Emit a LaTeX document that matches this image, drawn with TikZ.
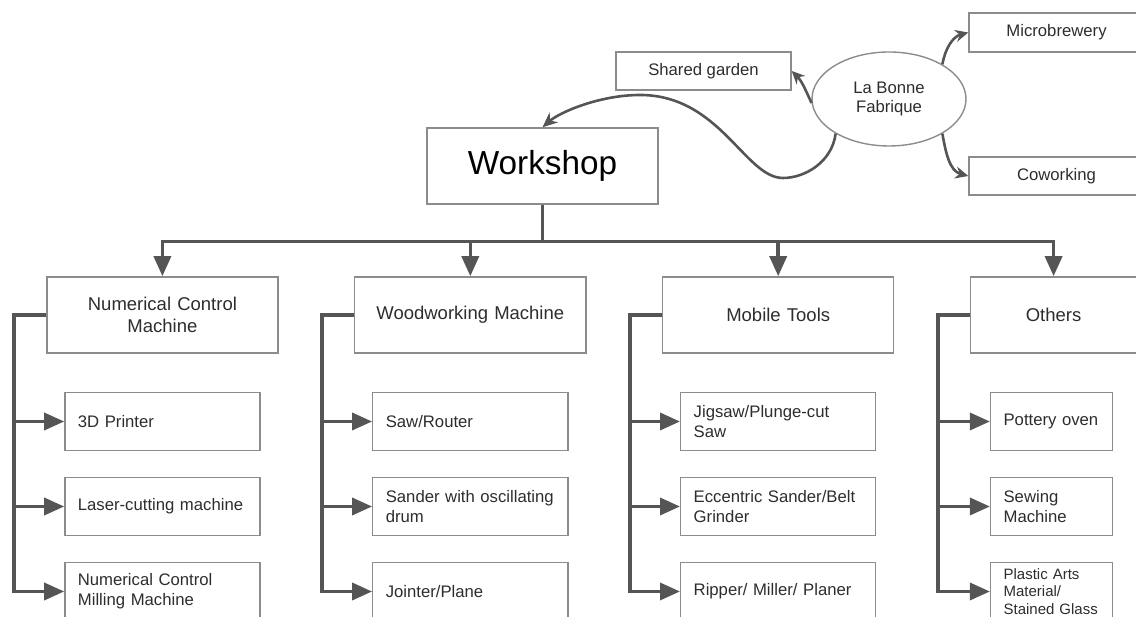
\documentclass[tikz,border=0pt]{standalone}
\usepackage{fontspec}
\setmainfont{Liberation Sans}
\usepackage{tikz}
\usetikzlibrary{matrix,arrows.meta,shapes.geometric}

\definecolor{boxline}{RGB}{140,140,140}
\definecolor{linkline}{RGB}{85,85,85}
\definecolor{labeltext}{RGB}{45,45,45}

\tikzset{
	box/.style={draw=boxline, line width=1.4pt, text=labeltext, inner sep=0pt},
	smalltext/.style={font=\fontsize{16.7}{20}\selectfont},
	headbox/.style={box, text width=231pt, minimum height=76pt, align=center, font=\fontsize{18.5}{22.3}\selectfont},
	itembox/.style={box, text width=169pt, inner xsep=13pt, minimum height=58pt, align=left, smalltext},
	tagbox/.style={box, minimum width=175pt, minimum height=38pt, smalltext},
	busline/.style={to path={-- ++(0,-37pt) -| (\tikztotarget)}},
	sideline/.style={to path={-- ++(-32pt,0) |- (\tikztotarget)}}
}

\begin{document}
\begin{tikzpicture}[x=1pt, y=1pt]
		\useasboundingbox (0,0) rectangle (1136,617);
		\node[box, minimum width=231pt, minimum height=76pt, text=black, font=\fontsize{33.3}{40}\selectfont] (workshop) at (542.5,451) {Workshop};
		\node[box, ellipse, minimum width=154pt, minimum height=94pt, align=center, smalltext] (fabrique) at (889,518) {La Bonne\\Fabrique};
		\node[tagbox] (garden) at (703.5,546) {Shared garden};
		\node[tagbox, minimum height=39pt] (brewery) at (1056.5,584.5) {Microbrewery};
		\node[tagbox] (cowork) at (1056.5,441) {Coworking};
		\coordinate (dip) at (783,439);
		\coordinate (crest) at (640,522);
		\matrix (m) [matrix of nodes, nodes={itembox, anchor=center}, column 4/.style={nodes={text width=96pt, xshift=-4pt}}, row 1/.style={nodes={headbox}}, column sep=75.5pt, row sep=25.6pt, inner sep=0pt, anchor=north west] at (46,341)
		{
			{Numerical Control\\Machine} & Woodworking Machine & Mobile Tools & |[text width=166pt, xshift=2pt]| Others \\[12.6pt]
			3D Printer & Saw/Router & {Jigsaw/Plunge-cut\\Saw} & Pottery oven \\
			Laser-cutting machine & {Sander with oscillating\\drum} & {Eccentric Sander/Belt\\Grinder} & {Sewing\\Machine} \\
			{Numerical Control\\Milling Machine} & Jointer/Plane & Ripper/ Miller/ Planer & |[font=\fontsize{15}{17.5}\selectfont]| {Plastic Arts\\Material/\\Stained Glass} \\
		};
		\path[color=linkline, line width=3.5pt, -{Triangle[length=20pt, width=17pt]}]
		(workshop.south) edge[busline] (m-1-1.north)
		edge[busline] (m-1-2.north)
		edge[busline] (m-1-3.north)
		edge[busline] (m-1-4.north)
		(m-1-1.west) edge[sideline] (m-2-1.west) edge[sideline] (m-3-1.west) edge[sideline] (m-4-1.west)
		(m-1-2.west) edge[sideline] (m-2-2.west) edge[sideline] (m-3-2.west) edge[sideline] (m-4-2.west)
		(m-1-3.west) edge[sideline] (m-2-3.west) edge[sideline] (m-3-3.west) edge[sideline] (m-4-3.west)
		(m-1-4.west) edge[sideline] (m-2-4.west) edge[sideline] (m-3-4.west) edge[sideline] (m-4-4.west)
		;
		\path[color=linkline, line width=2.6pt, -{Stealth[length=13pt, width=12pt]}]
		(fabrique.33) edge[out=80, in=195] (brewery.west)
		(fabrique.-33) edge[out=-80, in=165] (cowork.west)
		(fabrique.183) edge[out=115, in=-45] (garden.east)
		;
		\draw[linkline, line width=2.6pt, -{Stealth[length=15pt, width=13pt]}] (fabrique.213) .. controls (832,455) and (805,439) .. (dip) .. controls (745,439) and (720,522) .. (crest) .. controls (600,522) and (560,505) .. (workshop.north);
\end{tikzpicture}
\end{document}
